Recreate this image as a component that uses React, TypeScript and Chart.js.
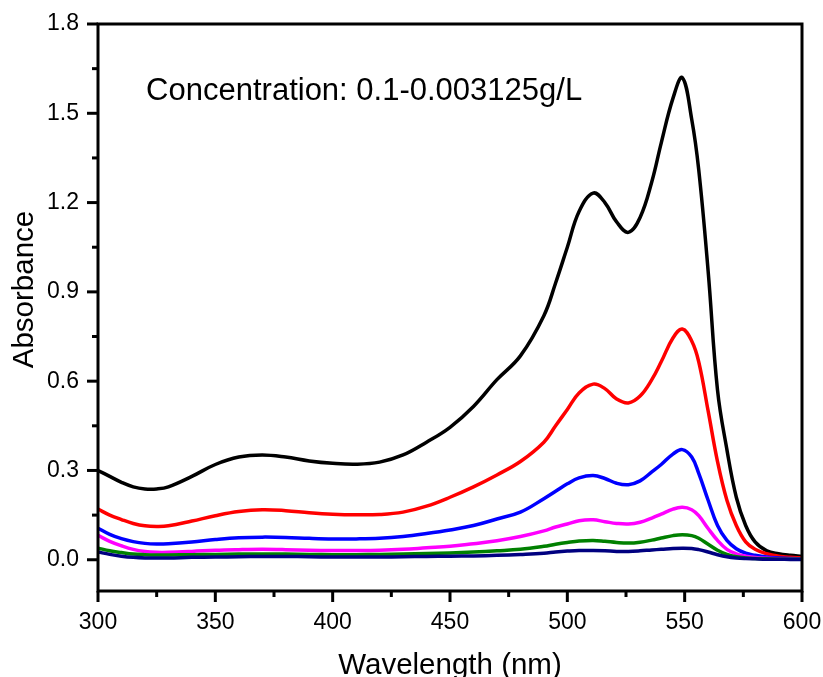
import React, { useEffect, useRef } from "react";
import { Chart, registerables } from "chart.js";

Chart.register(...registerables);

const wavelengths = [300, 305, 310, 315, 320, 325, 330, 340, 350, 360, 370, 380, 390, 400, 410, 420, 430, 440, 450, 460, 470, 480, 490, 495, 500, 505, 511, 516, 521, 526, 531, 536, 540, 545, 549, 553, 556, 560, 564, 568, 572, 576, 580, 585, 590, 595, 600];

const seriesBlack = [0.30, 0.28, 0.26, 0.245, 0.238, 0.238, 0.245, 0.28, 0.32, 0.345, 0.352, 0.345, 0.332, 0.324, 0.321, 0.328, 0.352, 0.395, 0.445, 0.515, 0.605, 0.685, 0.82, 0.93, 1.05, 1.17, 1.232, 1.20, 1.135, 1.10, 1.15, 1.27, 1.40, 1.55, 1.62, 1.48, 1.31, 0.97, 0.57, 0.37, 0.21, 0.115, 0.06, 0.03, 0.02, 0.015, 0.012];
const seriesRed = [0.170, 0.150, 0.135, 0.122, 0.114, 0.112, 0.114, 0.130, 0.148, 0.162, 0.168, 0.165, 0.158, 0.153, 0.151, 0.152, 0.160, 0.180, 0.210, 0.245, 0.285, 0.330, 0.395, 0.45, 0.505, 0.56, 0.59, 0.575, 0.54, 0.527, 0.55, 0.605, 0.665, 0.745, 0.775, 0.735, 0.665, 0.50, 0.33, 0.20, 0.115, 0.06, 0.035, 0.02, 0.012, 0.008, 0.006];
const seriesBlue = [0.106, 0.085, 0.071, 0.061, 0.055, 0.053, 0.054, 0.060, 0.068, 0.074, 0.076, 0.075, 0.072, 0.070, 0.070, 0.072, 0.078, 0.088, 0.100, 0.115, 0.137, 0.160, 0.205, 0.230, 0.255, 0.275, 0.283, 0.273, 0.257, 0.252, 0.265, 0.295, 0.320, 0.355, 0.370, 0.345, 0.29, 0.20, 0.115, 0.065, 0.037, 0.022, 0.015, 0.009, 0.006, 0.004, 0.003];
const seriesMagenta = [0.082, 0.062, 0.047, 0.035, 0.028, 0.025, 0.025, 0.028, 0.032, 0.034, 0.035, 0.034, 0.032, 0.031, 0.031, 0.032, 0.035, 0.040, 0.045, 0.054, 0.064, 0.078, 0.097, 0.110, 0.120, 0.131, 0.134, 0.128, 0.122, 0.120, 0.126, 0.140, 0.153, 0.170, 0.176, 0.168, 0.148, 0.105, 0.065, 0.035, 0.020, 0.012, 0.008, 0.005, 0.003, 0.002, 0.002];
const seriesGreen = [0.039, 0.030, 0.024, 0.019, 0.017, 0.016, 0.016, 0.017, 0.018, 0.019, 0.019, 0.019, 0.018, 0.017, 0.017, 0.018, 0.019, 0.021, 0.023, 0.026, 0.030, 0.035, 0.045, 0.052, 0.058, 0.063, 0.065, 0.062, 0.058, 0.056, 0.059, 0.066, 0.073, 0.081, 0.084, 0.081, 0.072, 0.052, 0.032, 0.018, 0.010, 0.006, 0.004, 0.003, 0.002, 0.002, 0.002];
const seriesNavy = [0.026, 0.018, 0.012, 0.008, 0.006, 0.006, 0.006, 0.008, 0.009, 0.010, 0.011, 0.011, 0.010, 0.009, 0.009, 0.009, 0.010, 0.011, 0.012, 0.013, 0.015, 0.018, 0.022, 0.026, 0.029, 0.031, 0.031, 0.030, 0.028, 0.028, 0.030, 0.033, 0.035, 0.038, 0.039, 0.038, 0.034, 0.026, 0.017, 0.010, 0.006, 0.004, 0.003, 0.002, 0.002, 0.001, 0.001];

const xMajorTicks = [300, 350, 400, 450, 500, 550, 600];
const xMinorTicks = [325, 375, 425, 475, 525, 575];
const yMajorTicks = [0.0, 0.3, 0.6, 0.9, 1.2, 1.5, 1.8];
const yMinorTicks = [-0.15, 0.15, 0.45, 0.75, 1.05, 1.35, 1.65];

const xTitle = "Wavelength (nm)";
const yTitle = "Absorbance";
const annotationText = "Concentration: 0.1-0.003125g/L";
const annotationAt = { x: 320.5, y: 1.543 };

const FONT = '"Liberation Sans", Arial, sans-serif';

const toPoints = (ys: number[]) => ys.map((v, i) => ({ x: wavelengths[i], y: v }));

const zeroPadding = (scale: any) => {
  scale.paddingTop = 0;
  scale.paddingBottom = 0;
  scale.paddingLeft = 0;
  scale.paddingRight = 0;
};

const framePlugin = {
  id: "frameTicks",
  afterDatasetsDraw(chart: any) {
    const { ctx, chartArea, scales } = chart;
    const { left, right, top, bottom } = chartArea;
    const x = scales.x;
    const y = scales.y;
    ctx.save();
    ctx.strokeStyle = "#000";
    ctx.lineWidth = 3;
    ctx.lineCap = "butt";
    ctx.strokeRect(left, top, right - left, bottom - top);
    const seg = (x1: number, y1: number, x2: number, y2: number) => {
      ctx.beginPath();
      ctx.moveTo(x1, y1);
      ctx.lineTo(x2, y2);
      ctx.stroke();
    };
    yMajorTicks.forEach((v) => {
      const p = y.getPixelForValue(v);
      seg(left - 11, p, left, p);
    });
    yMinorTicks.forEach((v) => {
      const p = y.getPixelForValue(v);
      if (p <= bottom && p >= top) seg(left - 6, p, left, p);
    });
    xMajorTicks.forEach((v) => {
      const p = x.getPixelForValue(v);
      seg(p, bottom, p, bottom + 11);
    });
    xMinorTicks.forEach((v) => {
      const p = x.getPixelForValue(v);
      seg(p, bottom, p, bottom + 6);
    });
    ctx.fillStyle = "#000";
    ctx.font = `31px ${FONT}`;
    ctx.textAlign = "left";
    ctx.textBaseline = "alphabetic";
    ctx.fillText(annotationText, x.getPixelForValue(annotationAt.x), y.getPixelForValue(annotationAt.y));

    ctx.font = `29.5px ${FONT}`;
    ctx.textAlign = "center";
    ctx.fillText(xTitle, (left + right) / 2, chart.height - 3);

    ctx.translate(33, (top + bottom) / 2 - 18);
    ctx.rotate(-Math.PI / 2);
    ctx.fillText(yTitle, 0, 0);
    ctx.restore();
  },
};

export default function App() {
  const canvasRef = useRef<HTMLCanvasElement | null>(null);

  useEffect(() => {
    if (!canvasRef.current) return;
    const chart = new Chart(canvasRef.current, {
      type: "line",
      data: {
        datasets: [
          { data: toPoints(seriesNavy), borderColor: "#000080" },
          { data: toPoints(seriesGreen), borderColor: "#008000" },
          { data: toPoints(seriesMagenta), borderColor: "#ff00ff" },
          { data: toPoints(seriesBlue), borderColor: "#0000ff" },
          { data: toPoints(seriesRed), borderColor: "#ff0000" },
          { data: toPoints(seriesBlack), borderColor: "#000000" },
        ].map((d) => ({
          ...d,
          borderWidth: 3.5,
          pointRadius: 0,
          fill: false,
          tension: 0.4,
        })),
      },
      options: {
        animation: false,
        responsive: false,
        layout: { padding: { top: 24, right: 21, left: 0, bottom: 0 } },
        plugins: {
          legend: { display: false },
          tooltip: { enabled: false },
        },
        scales: {
          x: {
            type: "linear",
            min: 300,
            max: 600,
            grid: { display: false, drawTicks: false },
            border: { display: false },
            afterBuildTicks: (scale: any) => {
              scale.ticks = xMajorTicks.map((v) => ({ value: v }));
            },
            afterFit: (scale: any) => {
              scale.height = 86;
              zeroPadding(scale);
            },
            ticks: {
              autoSkip: false,
              maxRotation: 0,
              padding: 18,
              color: "#000",
              font: { family: FONT, size: 23 },
              callback: (v: any) => String(v),
            },
          },
          y: {
            type: "linear",
            min: -0.105,
            max: 1.8,
            grid: { display: false, drawTicks: false },
            border: { display: false },
            afterBuildTicks: (scale: any) => {
              scale.ticks = yMajorTicks.map((v) => ({ value: v }));
            },
            afterFit: (scale: any) => {
              scale.width = 98;
              zeroPadding(scale);
            },
            ticks: {
              autoSkip: false,
              padding: 19,
              color: "#000",
              font: { family: FONT, size: 23 },
              callback: (v: any) => Number(v).toFixed(1),
            },
          },
        },
      },
      plugins: [framePlugin],
    });
    return () => chart.destroy();
  }, []);

  return (
    <div style={{ position: "absolute", left: 0, top: 0, width: 823, height: 677, background: "#fff" }}>
      <canvas ref={canvasRef} width={823} height={677} style={{ display: "block" }} />
    </div>
  );
}
